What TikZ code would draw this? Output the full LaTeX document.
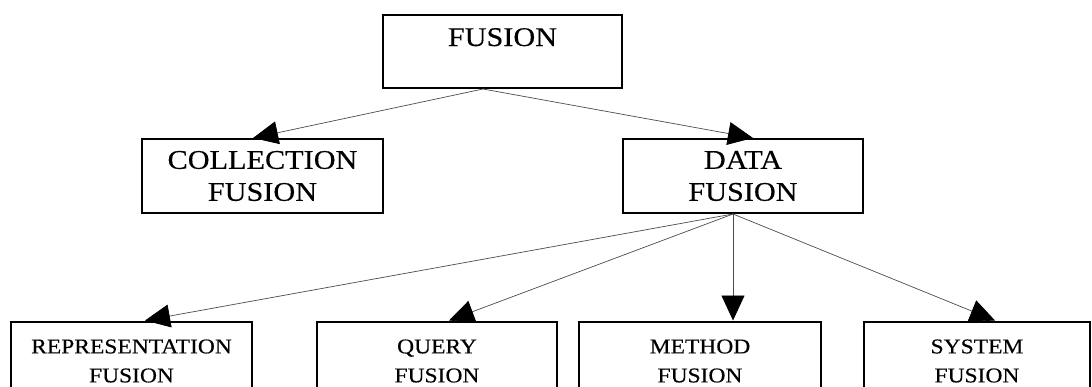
\documentclass[tikz,border=0pt]{standalone}
\usepackage{fontspec}
\setmainfont{Liberation Serif}[FakeStretch=1.12, FakeBold=0.35]
\usepackage{tikz}
\usetikzlibrary{arrows.meta}

\begin{document}
\begin{tikzpicture}[
  x=1pt, y=-1pt,
  fTop/.style={rectangle, draw=black, line width=2pt,
    minimum width=239pt, inner sep=0pt, anchor=north,
    text height=31pt, text depth=42pt,
    font=\fontsize{27}{32}\selectfont},
  fMid/.style={rectangle, draw=black, line width=2pt,
    minimum width=241pt, minimum height=74pt, inner sep=0pt,
    align=center, font=\fontsize{27}{32}\selectfont},
  fLow/.style={rectangle, draw=black, line width=2pt,
    minimum height=79pt, inner sep=0pt,
    align=center, font=\fontsize{21}{29}\selectfont},
  farr/.style={-{Triangle[length=25pt,width=23pt,color=black]},
    line width=0.7pt, color=black!70},
]
  \useasboundingbox (0,0) rectangle (1092,386);
  \clip (0,0) rectangle (1092,386);
  \fill[white] (0,0) rectangle (1092,386);

  %% ── Upper levels ────────────────────────────────────────────
  \node[fTop] (fusion) at (502.5,14) {FUSION};
  \node[fMid] (coll) at (262.5,176) {COLLECTION\\FUSION};
  \node[fMid, minimum width=240pt] (data) at (743,176) {DATA\\FUSION};

  %% ── Lower level ─────────────────────────────────────────────
  \node[fLow, minimum width=241pt] (repr)   at (131.5,361) {REPRESENTATION\\FUSION};
  \node[fLow, minimum width=240pt] (query)  at (437,361)   {QUERY\\FUSION};
  \node[fLow, minimum width=242pt] (method) at (700,361)   {METHOD\\FUSION};
  \node[fLow, minimum width=226pt] (system) at (977,361)   {SYSTEM\\FUSION};

  %% ── Arrows ──────────────────────────────────────────────────
  \draw[farr] ([xshift=-19.5pt]fusion.south) -- ([xshift=-9.5pt]coll.north);
  \draw[farr] ([xshift=-19.5pt]fusion.south) -- ([xshift=10pt]data.north);

  \foreach \t/\s in {repr/13.5, query/12, method/33, system/18}
    \draw[farr] ([xshift=-10pt]data.south) -- ([xshift=\s pt]\t.north);

\end{tikzpicture}
\end{document}
